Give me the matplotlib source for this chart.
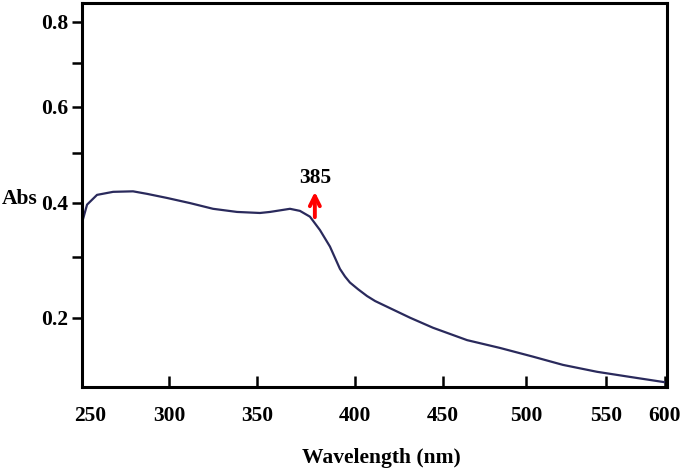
import numpy as np
import matplotlib
matplotlib.use("Agg")
import matplotlib.pyplot as plt

# absorption spectrum
wavelength = [245.6, 248.1, 254.4, 264.6, 277.2, 286.1, 298.7, 311.9, 325.0, 338.6,
              351.5, 356.6, 366.8, 371.9, 377.0, 382.1, 387.2, 392.3, 394.9, 397.4,
              401.7, 406.8, 411.4, 415.9, 431.3, 444.3, 464.5, 484.3, 504.4, 523.1,
              544.4, 570.3, 599.2]
absorbance = [0.369, 0.396, 0.415, 0.421, 0.422, 0.417, 0.409, 0.399, 0.388, 0.382,
              0.380, 0.382, 0.388, 0.384, 0.373, 0.348, 0.318, 0.279, 0.266, 0.256,
              0.245, 0.234, 0.226, 0.220, 0.200, 0.185, 0.167, 0.156, 0.144, 0.133,
              0.124, 0.1175, 0.111]

x_ticks = [250, 300, 350, 400, 450, 500, 550, 600]
y_ticks = [0.2, 0.4, 0.6, 0.8]
y_minor = [0.3, 0.5, 0.7]
peak_label = "385"
peak_x = 379.5

# the original axes are not evenly spaced: map ticks to where they sit
wl_knots = np.array([200, 250, 300, 350, 400, 450, 500, 550, 600, 650])
px_knots = np.array([11.0, 90, 169, 257, 355, 443, 526, 606, 665, 724])


def x_fwd(v):
    return np.interp(v, wl_knots, px_knots)


def x_inv(p):
    return np.interp(p, px_knots, wl_knots)


def y_fwd(v):
    return np.clip(v, 1e-9, None) ** 0.65


def y_inv(v):
    return np.clip(v, 1e-9, None) ** (1 / 0.65)


plt.rcParams['font.family'] = ['Liberation Serif', 'DejaVu Serif']
plt.rcParams['font.weight'] = 'bold'
fs = 15.5

fig = plt.figure(figsize=(6.85, 4.69), dpi=100)
ax = fig.add_axes([82 / 685, 1 - 387 / 469, 585 / 685, 384 / 469])

ax.set_xscale('function', functions=(x_fwd, x_inv))
ax.set_yscale('function', functions=(y_fwd, y_inv))

ax.plot(wavelength, absorbance, color='#2a2a5c', lw=1.6)

ax.set_xlim(244.9, 601.7)
ax.set_ylim(0.105, 0.847)

for s in ax.spines.values():
    s.set_linewidth(2.2)

ax.set_xticks(x_ticks)
ax.set_xticklabels([str(t) for t in x_ticks], fontsize=fs, fontweight='bold')
ax.tick_params(axis='x', direction='in', length=8, width=1.8, pad=14)
ax.xaxis.get_major_ticks()[0].tick1line.set_visible(False)

ax.set_yticks(y_ticks)
ax.set_yticklabels(["0.2", "0.4", "0.6", "0.8"], fontsize=fs, fontweight='bold')
ax.set_yticks(y_minor, minor=True)
ax.yaxis.set_minor_formatter(plt.NullFormatter())
ax.tick_params(axis='y', which='both', direction='out', length=7, width=1.8, pad=3)

ax.text(-0.106, 0.49, "Abs", transform=ax.transAxes, ha='center', va='center',
        fontsize=fs, fontweight='bold')
ax.text(0.511, -0.185, "Wavelength (nm)", transform=ax.transAxes, ha='center',
        va='center', fontsize=fs, fontweight='bold')

ax.annotate("", xy=(peak_x, 0.421), xytext=(peak_x, 0.372),
            arrowprops=dict(arrowstyle='->', color='red', lw=2.8, mutation_scale=18,
                            shrinkA=0, shrinkB=0))
ax.text(peak_x, 0.449, peak_label, ha='center', va='center', fontsize=fs, fontweight='bold')

fig.savefig("out.png", dpi=100)
